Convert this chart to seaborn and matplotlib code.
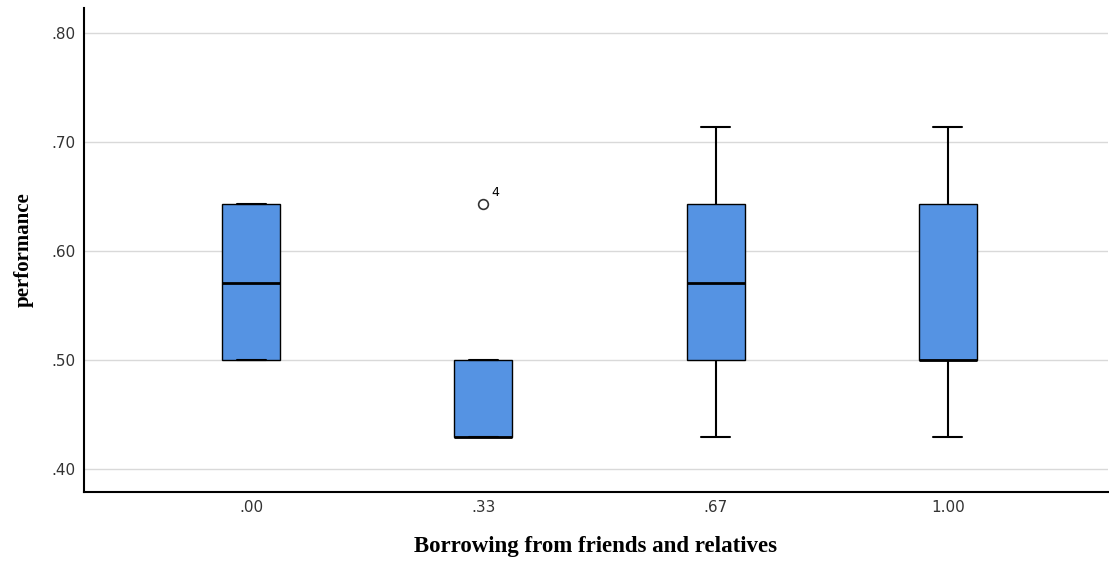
import matplotlib
matplotlib.use("Agg")
import matplotlib.pyplot as plt
import seaborn as sns
import pandas as pd

# Category labels (x) and observed performance values per group
categories = [".00", ".33", ".67", "1.00"]
g000 = [0.500, 0.500, 0.571, 0.643, 0.643]
g033 = [0.429, 0.429, 0.429, 0.429, 0.500, 0.500, 0.643]
g067 = [0.429, 0.500, 0.500, 0.571, 0.643, 0.643, 0.714]
g100 = [0.429, 0.500, 0.500, 0.500, 0.643, 0.643, 0.714]
outlier_label = "4"
outlier_group = ".33"
outlier_value = 0.643
yticks = [0.40, 0.50, 0.60, 0.70, 0.80]
ytick_labels = [".40", ".50", ".60", ".70", ".80"]

rows = []
for cat, vals in zip(categories, [g000, g033, g067, g100]):
    for v in vals:
        rows.append({"group": cat, "performance": v})
df = pd.DataFrame(rows)

sns.set_style("white")
fig = plt.figure(figsize=(11.09, 5.61), dpi=100)
ax = fig.add_axes([84/1109, 1 - 492/561, 1 - 84/1109 - 1/1109, (492 - 8)/561])

ax.set_axisbelow(True)
ax.yaxis.grid(True, color="#d9d9d9", linewidth=1)

sns.boxplot(data=df, x="group", y="performance", order=categories, ax=ax,
            width=0.25, color="#5593e3", saturation=1, linecolor="black",
            linewidth=1.0, whis=1.5,
            medianprops=dict(color="black", linewidth=2.0),
            whiskerprops=dict(color="black", linewidth=1.5),
            capprops=dict(color="black", linewidth=1.5),
            flierprops=dict(marker="o", markerfacecolor="none",
                            markeredgecolor="#333333", markersize=7,
                            markeredgewidth=1.2))

xi = categories.index(outlier_group)
ax.annotate(outlier_label, xy=(xi, outlier_value), xytext=(6, 4),
            textcoords="offset points", fontsize=9, color="black",
            ha="left", va="bottom")

ax.set_xlim(-0.72, 3.69)
ax.set_ylim(0.379, 0.823)
ax.set_yticks(yticks)
ax.set_yticklabels(ytick_labels)
ax.tick_params(axis="both", length=0, labelsize=11, labelcolor="#333333", pad=6)

for s in ["top", "right"]:
    ax.spines[s].set_visible(False)
for s in ["left", "bottom"]:
    ax.spines[s].set_color("black")
    ax.spines[s].set_linewidth(1.5)

ax.set_xlabel("Borrowing from friends and relatives", fontfamily="Liberation Serif",
              fontweight="bold", fontsize=16.5, labelpad=15, color="black")
ax.set_ylabel("performance", fontfamily="Liberation Serif",
              fontweight="bold", fontsize=15, labelpad=13, color="black")

fig.savefig("out.png", dpi=100)
